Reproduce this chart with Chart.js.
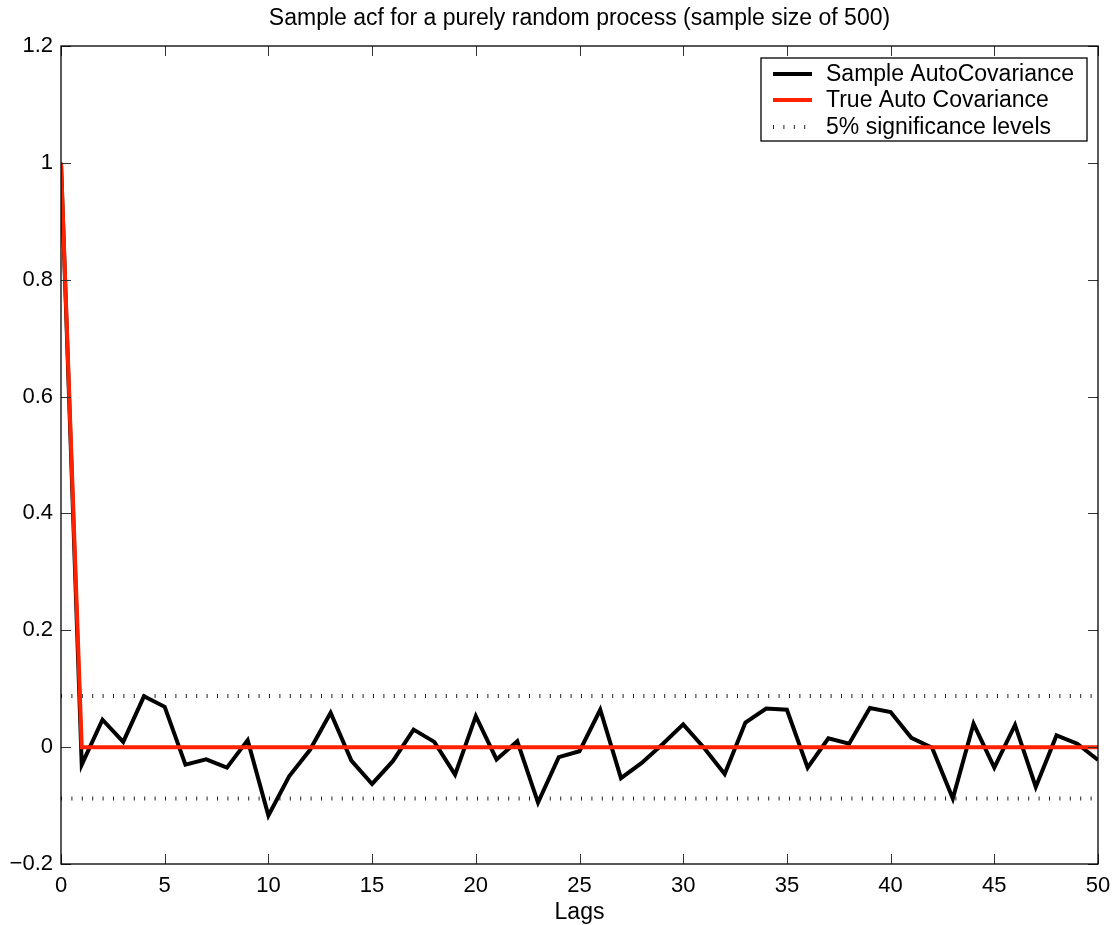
<!DOCTYPE html>
<html>
<head>
<meta charset="utf-8">
<script src="https://cdn.jsdelivr.net/npm/chart.js@4.4.0/dist/chart.umd.min.js"></script>
<style>
html,body{margin:0;padding:0;background:#fff;}
#wrap{width:1113px;height:925px;position:relative;}
</style>
</head>
<body>
<div id="wrap"><canvas id="c" width="1113" height="925"></canvas></div>
<script>
const titleText = "Sample acf for a purely random process (sample size of 500)";
const xLabel = "Lags";
const lags = [0,1,2,3,4,5,6,7,8,9,10,11,12,13,14,15,16,17,18,19,20,21,22,23,24,25,26,27,28,29,30,31,32,33,34,35,36,37,38,39,40,41,42,43,44,45,46,47,48,49,50];
const sampleAcf = [1.0,-0.030,0.047,0.009,0.087,0.069,-0.030,-0.021,-0.035,0.012,-0.117,-0.050,-0.005,0.059,-0.023,-0.063,-0.024,0.030,0.009,-0.047,0.053,-0.021,0.010,-0.095,-0.017,-0.007,0.064,-0.053,-0.027,0.005,0.039,-0.001,-0.046,0.042,0.066,0.064,-0.035,0.015,0.006,0.067,0.060,0.016,-0.001,-0.088,0.040,-0.035,0.038,-0.068,0.020,0.006,-0.022];
const trueAcf = [1,0,0,0,0,0,0,0,0,0,0,0,0,0,0,0,0,0,0,0,0,0,0,0,0,0,0,0,0,0,0,0,0,0,0,0,0,0,0,0,0,0,0,0,0,0,0,0,0,0,0];
const sigLevel = 0.0877;
const sigX = [0, 50];
const seriesLabels = ["Sample AutoCovariance","True Auto Covariance","5% significance levels"];

const FONT = "'Liberation Sans', Arial, Helvetica, sans-serif";

const toXY = (xs, ys) => xs.map((x,i)=>({x:x,y:ys[i]}));

const boxPlugin = {
  id:'boxPlugin',
  afterDraw(chart){
    const ctx = chart.ctx, a = chart.chartArea;
    const xs = chart.scales.x, ys = chart.scales.y;
    ctx.save();
    ctx.strokeStyle = '#333';
    ctx.lineWidth = 1;
    const tl = 10;
    ctx.beginPath();
    xs.ticks.forEach(t=>{
      const px = Math.round(xs.getPixelForValue(t.value))+0.5;
      ctx.moveTo(px, a.bottom); ctx.lineTo(px, a.bottom - tl);
      ctx.moveTo(px, a.top); ctx.lineTo(px, a.top + tl);
    });
    ys.ticks.forEach(t=>{
      const py = Math.round(ys.getPixelForValue(t.value))+0.5;
      ctx.moveTo(a.left, py); ctx.lineTo(a.left + tl, py);
      ctx.moveTo(a.right, py); ctx.lineTo(a.right - tl, py);
    });
    ctx.stroke();
    ctx.strokeStyle = '#000';
    ctx.lineWidth = 1.3;
    ctx.strokeRect(a.left, a.top, a.right - a.left, a.bottom - a.top);
    ctx.fillStyle = '#000';
    ctx.font = "23px " + FONT;
    ctx.textAlign = 'center';
    ctx.textBaseline = 'middle';
    ctx.fillText(titleText, (a.left + a.right)/2, 19);
    ctx.font = "23px " + FONT;
    ctx.fillText(xLabel, (a.left + a.right)/2, 913);
    const lx = 761, ly = 58, lw = 326, lh = 83;
    ctx.fillStyle = '#fff';
    ctx.fillRect(lx, ly, lw, lh);
    ctx.strokeStyle = '#000';
    ctx.lineWidth = 1.3;
    ctx.strokeRect(lx, ly, lw, lh);
    const rows = [74, 100, 127];
    chart.data.datasets.slice(0,3).forEach((ds,i)=>{
      ctx.save();
      ctx.strokeStyle = ds.borderColor;
      ctx.lineWidth = ds.borderWidth;
      ctx.setLineDash(ds.borderDash || []);
      ctx.lineCap = 'butt';
      ctx.beginPath();
      ctx.moveTo(773, rows[i]); ctx.lineTo(812, rows[i]);
      ctx.stroke();
      ctx.restore();
      ctx.fillStyle = '#000';
      ctx.font = "23px " + FONT;
      ctx.textAlign = 'left';
      ctx.textBaseline = 'middle';
      ctx.fillText(seriesLabels[i], 826, rows[i]+1);
    });
    ctx.restore();
  }
};

const fmt = v => {
  const n = Number(Number(v).toFixed(1));
  return (n < 0 ? '\u2212' + String(-n) : String(n));
};

new Chart(document.getElementById('c'), {
  type:'line',
  data:{
    datasets:[
      {label:seriesLabels[0], data:toXY(lags, sampleAcf), borderColor:'#000', borderWidth:4, pointRadius:0, tension:0, order:2},
      {label:seriesLabels[1], data:toXY(lags, trueAcf), borderColor:'#ff2200', borderWidth:4, pointRadius:0, tension:0, order:1},
      {label:seriesLabels[2], data:toXY(sigX, [sigLevel, sigLevel]), borderColor:'#222', borderWidth:4, borderDash:[1,9.4], borderCapStyle:'butt', pointRadius:0, order:3},
      {label:seriesLabels[2]+'_lo', data:toXY(sigX, [-sigLevel, -sigLevel]), borderColor:'#222', borderWidth:4, borderDash:[1,9.4], borderCapStyle:'butt', pointRadius:0, order:3}
    ]
  },
  options:{
    responsive:false,
    animation:false,
    devicePixelRatio:1,
    layout:{padding:{top:46, right:15, left:0, bottom:0}},
    plugins:{legend:{display:false}, title:{display:false}, tooltip:{enabled:false}},
    scales:{
      x:{
        type:'linear', min:0, max:50,
        grid:{display:false, drawTicks:false},
        border:{display:false},
        ticks:{stepSize:5, color:'#000', font:{size:22, family:FONT}, padding:9, maxRotation:0, callback:v=>fmt(v)},
        afterFit(s){ s.height = 61; s.paddingRight = 0; s.paddingLeft = 0; }
      },
      y:{
        type:'linear', min:-0.2, max:1.2,
        grid:{display:false, drawTicks:false},
        border:{display:false},
        ticks:{stepSize:0.2, color:'#000', font:{size:22, family:FONT}, padding:8, callback:v=>fmt(v)},
        afterFit(s){ s.width = 61; s.paddingTop = 0; s.paddingBottom = 0; }
      }
    }
  },
  plugins:[boxPlugin]
});
</script>
</body>
</html>
